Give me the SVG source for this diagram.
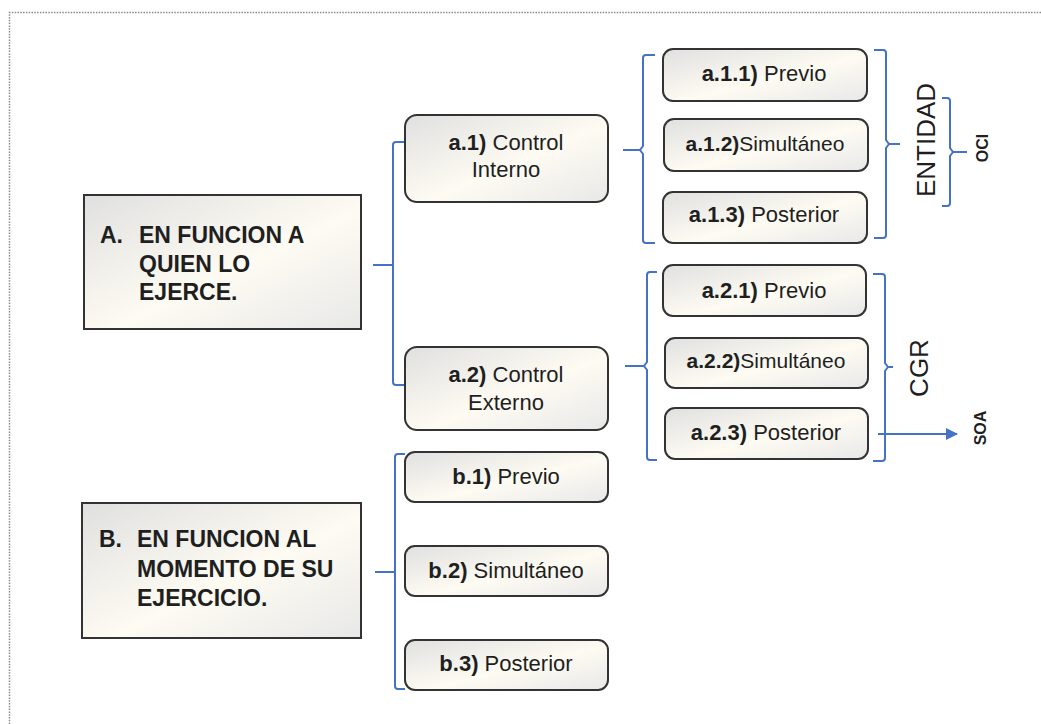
<svg xmlns="http://www.w3.org/2000/svg" width="1041" height="724" viewBox="0 0 1041 724">
  <defs>
    <linearGradient id="fill" x1="0" y1="0" x2="1" y2="1">
      <stop offset="0" stop-color="#e0e0e0"/>
      <stop offset="0.55" stop-color="#fdfbf2"/>
      <stop offset="1" stop-color="#e8e8e8"/>
    </linearGradient>
    <marker id="arrow" viewBox="0 0 12 12" refX="11" refY="6" markerWidth="12" markerHeight="12" markerUnits="userSpaceOnUse" orient="auto">
      <path d="M0,0 L12,6 L0,12 z" fill="#4472c4"/>
    </marker>
  </defs>
  <style>
    .box { fill: url(#fill); stroke: #333; stroke-width: 2; }
    .node { fill: url(#fill); stroke: #333; stroke-width: 2; }
    .t { font-family: "Liberation Sans", Arial, sans-serif; fill: #1f1f1f; }
    .big { font-size: 23px; font-weight: bold; }
    .lbl { font-size: 22px; text-anchor: middle; }
    .sm { font-size: 21px; text-anchor: middle; }
    .b { font-weight: bold; }
    .side { font-size: 26px; text-anchor: middle; }
    .tiny { font-size: 16px; font-weight: bold; text-anchor: middle; }
    .con { fill: none; stroke: #4472c4; stroke-width: 2; }
  </style>

  <rect width="1041" height="724" fill="#ffffff"/>
  <path d="M1041,12.5 H9.5 V724" fill="none" stroke="#8a8a8a" stroke-width="1.5" stroke-dasharray="1.5 1.3"/>

  <g id="connectors">
    <!-- A bracket -->
    <path class="con" d="M405,142 H396 Q393,142 393,145 V382 Q393,385 396,385 H405 M373,265 H393"/>
    <!-- a.1 children left bracket -->
    <path class="con" d="M655,55 H646 Q643,55 643,58 V146 L640,150 L643,154 V240 Q643,243 646,243 H655 M623,150 H640"/>
    <!-- a.1 children right bracket (ENTIDAD) -->
    <path class="con" d="M874,50 H883 Q886,50 886,53 V140 L889,144 L886,148 V235 Q886,238 883,238 H874 M889,144 H900"/>
    <!-- OCI bracket -->
    <path class="con" d="M942,98 H947 Q950,98 950,101 V148 L953,152 L950,156 V203 Q950,206 947,206 H942 M953,152 H967"/>
    <!-- a.2 children left bracket -->
    <path class="con" d="M657,272 H650 Q647,272 647,275 V362 L644,366 L647,370 V457 Q647,460 650,460 H657 M625,366 H644"/>
    <!-- a.2 children right bracket (CGR) -->
    <path class="con" d="M873,274 H882 Q885,274 885,277 V363 L888,367 L885,371 V458 Q885,461 882,461 H873 M888,367 H893"/>
    <!-- arrow to SOA -->
    <path class="con" d="M878,434 H957" marker-end="url(#arrow)"/>
    <!-- B bracket -->
    <path class="con" d="M405,454 H398 Q395,454 395,457 V686 Q395,689 398,689 H405 M375,572 H395"/>
  </g>

  <g id="nodeA">
    <rect class="box" x="84" y="195" width="277" height="134"/>
    <text class="t big" x="100" y="243">A.</text>
    <text class="t big" x="139" y="243">EN FUNCION A</text>
    <text class="t big" x="139" y="272">QUIEN LO</text>
    <text class="t big" x="139" y="300">EJERCE.</text>
  </g>

  <g id="nodeB">
    <rect class="box" x="82" y="503" width="279" height="135"/>
    <text class="t big" x="99" y="547">B.</text>
    <text class="t big" x="137" y="547">EN FUNCION AL</text>
    <text class="t big" x="137" y="577">MOMENTO DE SU</text>
    <text class="t big" x="137" y="606">EJERCICIO.</text>
  </g>

  <g id="node-a1">
    <rect class="node" x="405" y="115" width="203" height="87" rx="12"/>
    <text class="t lbl" x="506" y="150"><tspan class="b">a.1)</tspan> Control</text>
    <text class="t lbl" x="506" y="177">Interno</text>
  </g>

  <g id="node-a2">
    <rect class="node" x="405" y="347" width="203" height="83" rx="12"/>
    <text class="t lbl" x="506" y="382"><tspan class="b">a.2)</tspan> Control</text>
    <text class="t lbl" x="506" y="410">Externo</text>
  </g>

  <g id="node-a11">
    <rect class="node" x="663" y="49" width="204" height="52" rx="10"/>
    <text class="t lbl" x="764" y="81"><tspan class="b">a.1.1)</tspan> Previo</text>
  </g>
  <g id="node-a12">
    <rect class="node" x="664" y="119" width="204" height="52" rx="10"/>
    <text class="t sm" x="765" y="151"><tspan class="b">a.1.2)</tspan>Simultáneo</text>
  </g>
  <g id="node-a13">
    <rect class="node" x="663" y="192" width="204" height="51" rx="10"/>
    <text class="t lbl" x="764" y="222"><tspan class="b">a.1.3)</tspan> Posterior</text>
  </g>

  <g id="node-a21">
    <rect class="node" x="663" y="265" width="203" height="51" rx="10"/>
    <text class="t lbl" x="764" y="298"><tspan class="b">a.2.1)</tspan> Previo</text>
  </g>
  <g id="node-a22">
    <rect class="node" x="665" y="338" width="203" height="50" rx="10"/>
    <text class="t sm" x="766" y="368"><tspan class="b">a.2.2)</tspan>Simultáneo</text>
  </g>
  <g id="node-a23">
    <rect class="node" x="665" y="408" width="203" height="51" rx="10"/>
    <text class="t lbl" x="766" y="440"><tspan class="b">a.2.3)</tspan> Posterior</text>
  </g>

  <g id="node-b1">
    <rect class="node" x="405" y="452" width="203" height="50" rx="10"/>
    <text class="t lbl" x="506" y="484"><tspan class="b">b.1)</tspan> Previo</text>
  </g>
  <g id="node-b2">
    <rect class="node" x="405" y="546" width="203" height="50" rx="10"/>
    <text class="t lbl" x="506" y="578"><tspan class="b">b.2)</tspan> Simultáneo</text>
  </g>
  <g id="node-b3">
    <rect class="node" x="405" y="640" width="203" height="50" rx="10"/>
    <text class="t lbl" x="506" y="671"><tspan class="b">b.3)</tspan> Posterior</text>
  </g>

  <g id="label-entidad">
    <text class="t side" transform="translate(935,140) rotate(-90)">ENTIDAD</text>
  </g>
  <g id="label-oci">
    <text class="t tiny" transform="translate(988,148) rotate(-90)">OCI</text>
  </g>
  <g id="label-cgr">
    <text class="t side" transform="translate(928,368) rotate(-90)">CGR</text>
  </g>
  <g id="label-soa">
    <text class="t tiny" transform="translate(986,428) rotate(-90)">SOA</text>
  </g>
</svg>
